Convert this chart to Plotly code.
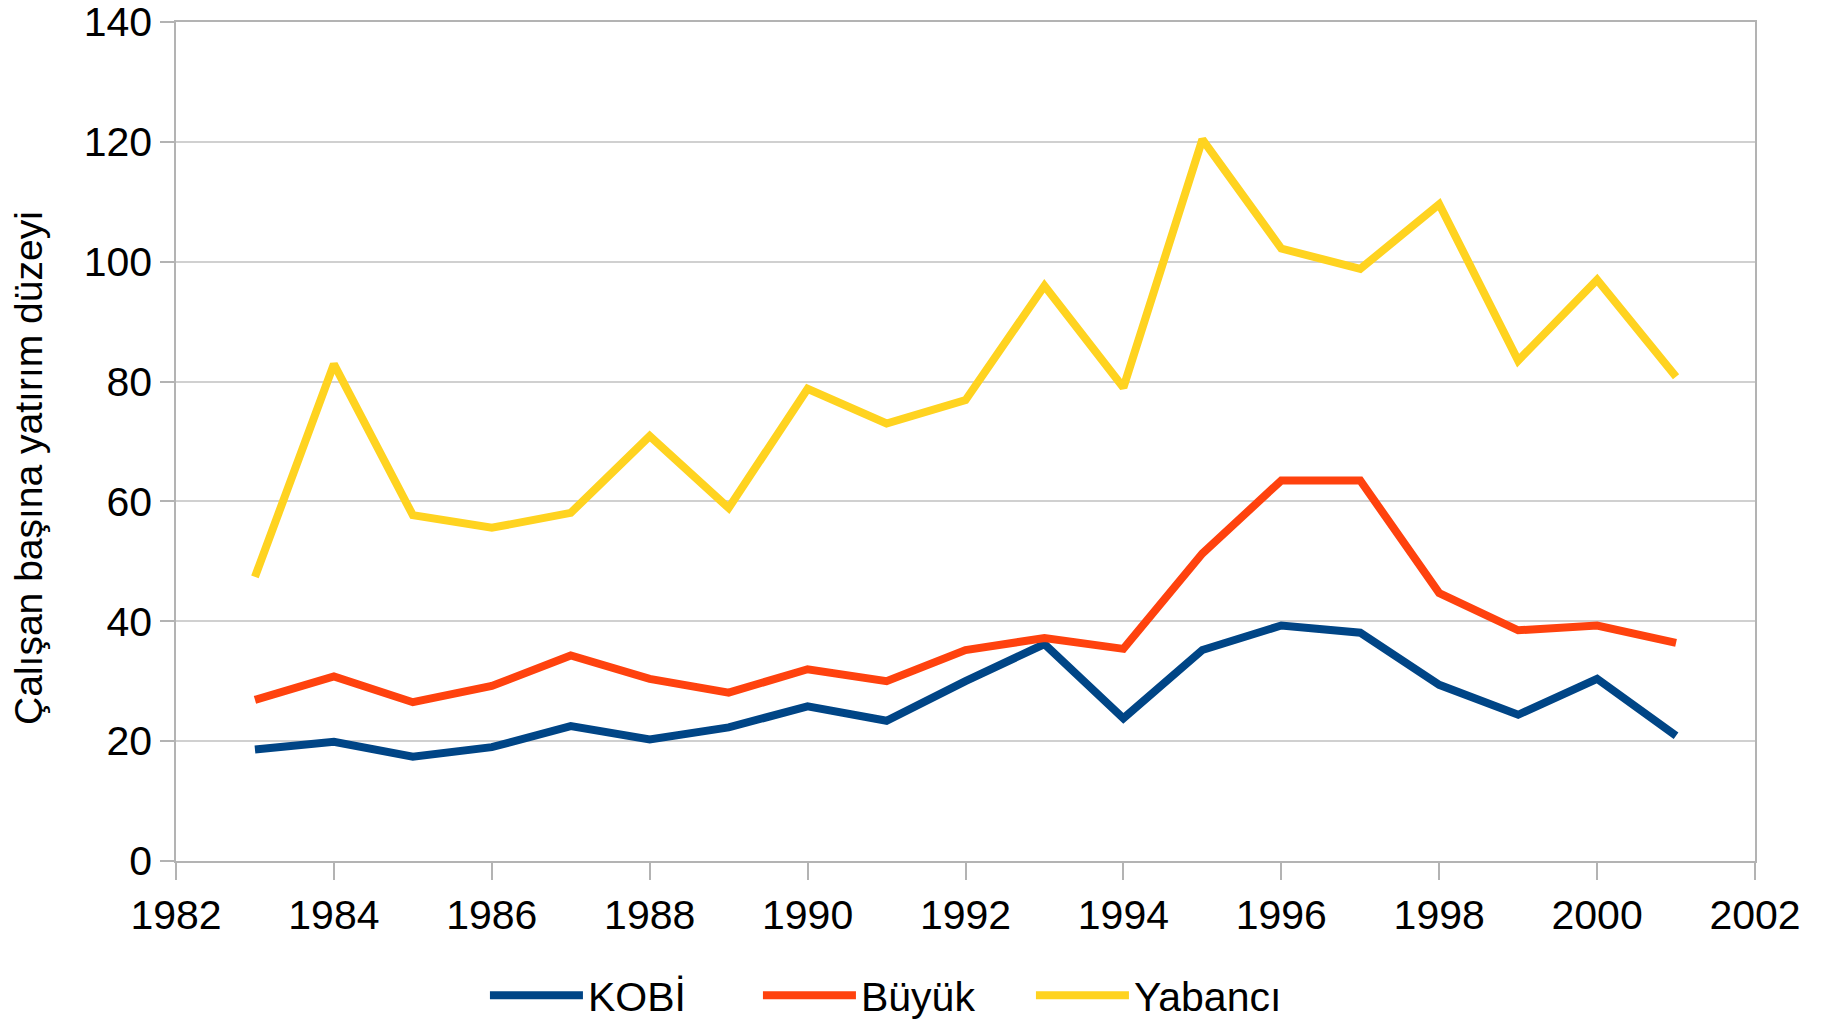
import plotly.graph_objects as go

years = list(range(1983, 2002))
kobi = [18.6, 19.9, 17.4, 19.0, 22.5, 20.3, 22.3, 25.8, 23.4, 30.0, 36.2, 23.8, 35.2, 39.3, 38.1, 29.4, 24.4, 30.4, 20.9]
buyuk = [26.9, 30.8, 26.5, 29.2, 34.3, 30.4, 28.1, 32.0, 30.0, 35.2, 37.2, 35.4, 51.3, 63.5, 63.5, 44.7, 38.5, 39.3, 36.4]
yabanci = [47.4, 82.9, 57.7, 55.6, 58.1, 70.9, 58.9, 78.8, 73.0, 76.9, 96.0, 79.0, 120.4, 102.2, 98.8, 109.6, 83.5, 97.0, 80.8]
series_names = ["KOBİ", "Büyük", "Yabancı"]
series_colors = ["#004586", "#ff420e", "#ffd320"]
y_title = "Çalışan başına yatırım düzeyi"

fig = go.Figure()
for name, vals, col in zip(series_names, [kobi, buyuk, yabanci], series_colors):
    fig.add_trace(go.Scatter(x=years, y=vals, mode="lines", name=name,
                             line=dict(color=col, width=8)))

font = "Liberation Sans, Arial, sans-serif"
fig.update_layout(
    width=1824, height=1020,
    margin=dict(l=176, r=69, t=22, b=159, autoexpand=False),
    paper_bgcolor="white", plot_bgcolor="white",
    font=dict(family=font, size=41, color="black"),
    showlegend=True,
    legend=dict(orientation="h", x=0.455, xanchor="center",
                yref="container", y=0.024, yanchor="middle",
                font=dict(size=41), itemwidth=93,
                entrywidth=165, entrywidthmode="pixels",
                bgcolor="rgba(0,0,0,0)"),
    xaxis=dict(range=[1982, 2002], dtick=2, tick0=1982, showgrid=False,
               showline=True, linecolor="#b3b3b3", linewidth=1.5, mirror=True,
               ticks="outside", ticklen=17, tickcolor="#b3b3b3", tickwidth=1.5,
               zeroline=False, tickfont=dict(size=41), automargin=False,
               ticklabeloverflow="allow"),
    yaxis=dict(range=[0, 140], dtick=20, showgrid=True, gridcolor="#d0d0d0", gridwidth=1.5,
               showline=True, linecolor="#b3b3b3", linewidth=1.5, mirror=True,
               ticks="outside", ticklen=14, tickcolor="#b3b3b3", tickwidth=1.5,
               zeroline=False, tickfont=dict(size=41), automargin=False,
               ticklabeloverflow="allow"),
    annotations=[dict(text=y_title, textangle=-90, xref="paper", yref="paper",
                      x=0, y=0.4685, xanchor="center", yanchor="middle",
                      xshift=-147, showarrow=False, font=dict(size=39, color="black"))],
)
fig.write_html("out.html", config={"displayModeBar": False},
               post_script="document.body.style.margin='0';")
